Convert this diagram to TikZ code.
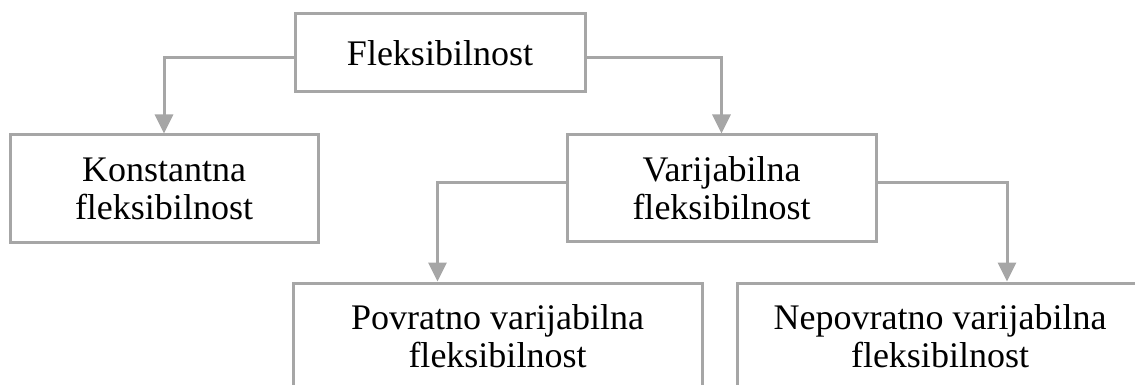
\documentclass[tikz,border=0pt]{standalone}
\usepackage{fontspec}
\setmainfont{Liberation Serif}
\usetikzlibrary{arrows.meta,shapes}

\begin{document}
\begin{tikzpicture}[x=0.5pt,y=-0.5pt,
  box/.style={draw=lgray,line width=1.5pt,fill=white,align=center,inner sep=0pt,
    font=\fontsize{18}{19}\selectfont},
  link/.style={draw=lgray,line width=1.5pt,-{Triangle[width=9pt,length=9.5pt]}}]
  \definecolor{lgray}{HTML}{A6A6A6}
  \useasboundingbox (0,0) rectangle (1135,385);
  \clip (0,0) rectangle (1135,385);
  \node[box,minimum width=145pt,minimum height=39pt] (flex) at (440,53) {Fleksibilnost};
  \node[box,minimum width=154pt,minimum height=53.5pt] (konst) at (164,188.5) {Konstantna\\fleksibilnost};
  \node[box,minimum width=154.5pt,minimum height=53pt] (var) at (721.5,188) {Varijabilna\\fleksibilnost};
  \node[box,minimum width=204.5pt,minimum height=53pt] (povr) at (497.5,336) {Povratno varijabilna\\fleksibilnost};
  \node[box,minimum width=203pt,minimum height=53pt] (nepovr) at (940,336) {Nepovratno varijabilna\\fleksibilnost};
  \draw[link] ([yshift=-2.5pt]flex.west) -| (konst.north);
  \draw[link] ([yshift=-2.5pt]flex.east) -| (var.north);
  \draw[link] ([yshift=3pt]var.west) -| ([xshift=-30pt]povr.north);
  \draw[link] ([yshift=3pt]var.east) -| ([xshift=33.5pt]nepovr.north);
\end{tikzpicture}
\end{document}
